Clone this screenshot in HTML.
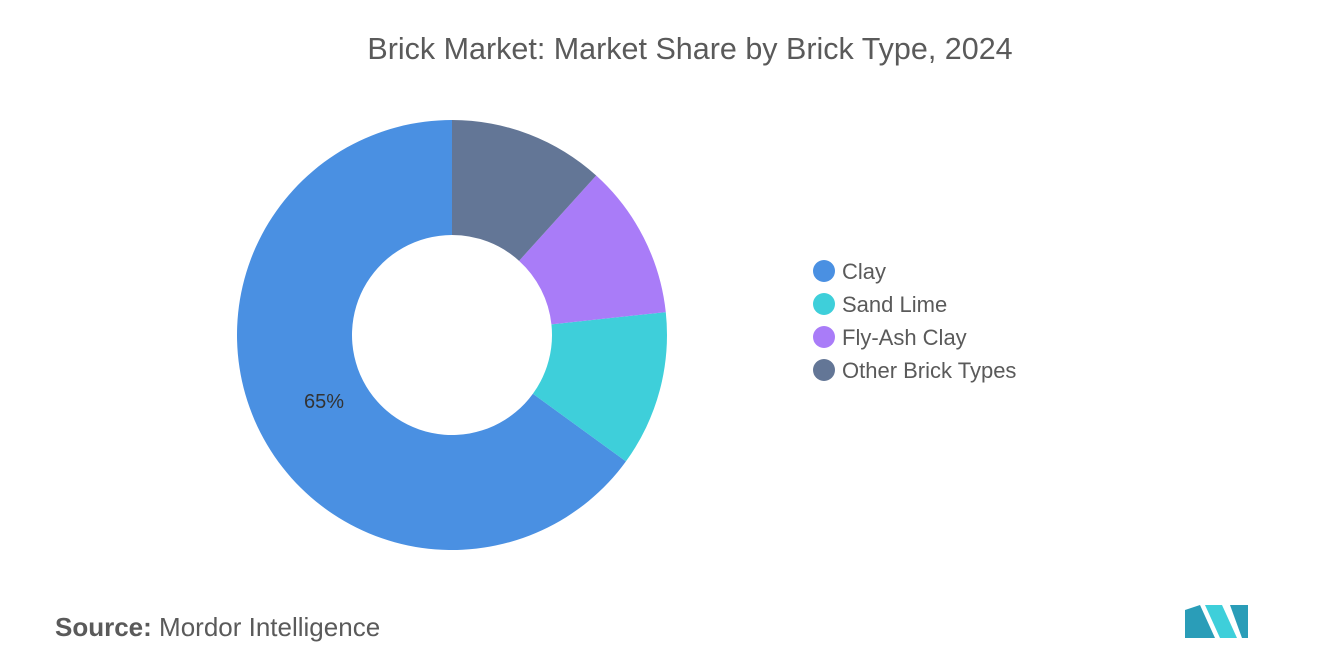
<!DOCTYPE html>
<html><head><meta charset="utf-8"><style>
body{margin:0;background:#fff;font-family:"Liberation Sans",sans-serif;}
svg{display:block}
</style></head><body>
<svg width="1320" height="665" viewBox="0 0 1320 665">
<text x="690" y="59" text-anchor="middle" font-size="30.5" fill="#5a5a5a">Brick Market: Market Share by Brick Type, 2024</text>
<g id="slices"></g>
<text x="324" y="408" text-anchor="middle" font-size="20" fill="#333">65%</text>
<g id="legend"></g>
<text x="55" y="636" font-size="26" fill="#5a5a5a"><tspan font-weight="bold">Source:</tspan>  Mordor Intelligence</text>
<g>
<polygon points="1185,638 1185,610 1200,605 1215,638" fill="#2a9db8"/>
<polygon points="1205,605 1222,605 1237,638 1220,638" fill="#3ecfda"/>
<polygon points="1230,605 1248,605 1248,638 1242,638" fill="#2a9db8"/>
</g>
</svg>
<script>
const categories=["Clay","Sand Lime","Fly-Ash Clay","Other Brick Types"];
const values=[65,11.7,11.6,11.7];
const colors=["#4a90e2","#3ecfda","#a97cf8","#637696"];
const NS="http://www.w3.org/2000/svg";
const cx=452,cy=335,R=215,r=100;
const total=values.reduce((a,b)=>a+b,0);
function pt(a,rad){return [cx+rad*Math.sin(a),cy-rad*Math.cos(a)];}
let acc=0;
const g=document.getElementById('slices');
values.forEach((v,i)=>{
  const a0=-acc/total*2*Math.PI; acc+=v; const a1=-acc/total*2*Math.PI;
  const large=(v/total)>0.5?1:0;
  const p0=pt(a0,R),p1=pt(a1,R),q1=pt(a1,r),q0=pt(a0,r);
  const d=`M${p0} A${R},${R} 0 ${large} 0 ${p1} L${q1} A${r},${r} 0 ${large} 1 ${q0} Z`;
  const p=document.createElementNS(NS,'path');
  p.setAttribute('d',d);p.setAttribute('fill',colors[i]);
  
  
  g.appendChild(p);
});
const lg=document.getElementById('legend');
categories.forEach((c,i)=>{
  const y=271+i*33;
  const e=document.createElementNS(NS,'g');
  
  
  const ci=document.createElementNS(NS,'circle');
  ci.setAttribute('cx',824);ci.setAttribute('cy',y);ci.setAttribute('r',11);ci.setAttribute('fill',colors[i]);
  const t=document.createElementNS(NS,'text');
  t.setAttribute('x',842);t.setAttribute('y',y+8);t.setAttribute('font-size',22);t.setAttribute('fill','#5a5a5a');
  t.textContent=c;
  e.appendChild(ci);e.appendChild(t);lg.appendChild(e);
});
</script>
</body></html>
